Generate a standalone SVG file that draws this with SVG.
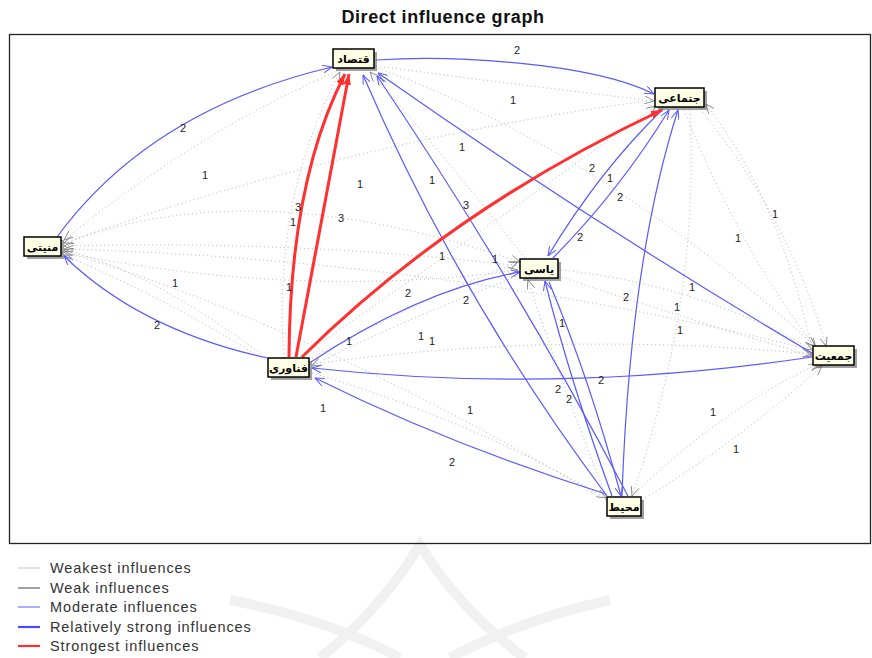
<svg xmlns="http://www.w3.org/2000/svg" width="872" height="658" viewBox="0 0 872 658">
<defs>
<marker id="ab" viewBox="0 0 10 8" refX="9.5" refY="4" markerWidth="10" markerHeight="8" markerUnits="userSpaceOnUse" orient="auto"><path d="M0,0 L9.5,4 L0,8" fill="none" stroke="#5a5aff" stroke-width="1"/></marker>
<marker id="ar" viewBox="0 0 12 8" refX="11" refY="4" markerWidth="12" markerHeight="8" markerUnits="userSpaceOnUse" orient="auto"><path d="M0,0 L11,4 L0,8 Z" fill="#ff3030"/></marker>
<marker id="ag" viewBox="0 0 10 8" refX="9.5" refY="4" markerWidth="10" markerHeight="8" markerUnits="userSpaceOnUse" orient="auto"><path d="M0,0 L9.5,4 L0,8" fill="none" stroke="#888" stroke-width="0.9"/></marker>
</defs>
<style>
.blue{fill:none;stroke:#5a5aff;stroke-width:1.2;marker-end:url(#ab)}
.red{fill:none;stroke:#ff3030;stroke-width:3;marker-end:url(#ar)}
.dot{fill:none;stroke:#b0b0b0;stroke-width:1;stroke-dasharray:1 3;marker-end:url(#ag)}
.lbl{font-family:"Liberation Sans",Arial,sans-serif;font-size:11px;fill:#222;text-anchor:middle}
.box{fill:#ffffe6;stroke:#000;stroke-width:1.5}
.sh{fill:#555;opacity:0.55}
.nt{font-family:"DejaVu Sans","Noto Sans",sans-serif;font-size:11px;font-weight:bold;fill:#000;text-anchor:middle}
.leg{font-family:"Liberation Sans",Arial,sans-serif;font-size:14.5px;letter-spacing:0.9px;fill:#333}
</style>
<rect x="0" y="0" width="872" height="658" fill="#fff"/>
<!-- watermark -->
<g fill="none" stroke="#f1f1f1" stroke-width="10">
<path d="M320,658 Q380,610 420,545 Q460,610 525,658"/>
<path d="M230,600 Q330,620 400,658"/>
<path d="M610,600 Q520,620 450,658"/>
</g>
<text x="443" y="23" font-family="Liberation Sans,Arial,sans-serif" font-size="18" font-weight="bold" letter-spacing="0.6" text-anchor="middle" fill="#111">Direct influence graph</text>
<rect x="9.5" y="34.5" width="861" height="509" fill="none" stroke="#222" stroke-width="1.3"/>
<g id="connectors">
<!-- weakest dotted -->
<path class="dot" d="M340,70 Q200,130 64,240"/>
<path class="dot" d="M655,100 Q350,140 64,243"/>
<path class="dot" d="M520,266 Q300,240 64,246"/>
<path class="dot" d="M812,350 Q450,260 64,249"/>
<path class="dot" d="M606,500 Q300,320 64,252"/>
<path class="dot" d="M268,362 Q170,300 64,255"/>
<path class="dot" d="M268,359 Q150,270 64,250"/>
<path class="dot" d="M376,66 Q520,85 654,101"/>
<path class="dot" d="M525,258 Q440,150 370,72"/>
<path class="dot" d="M284,358 Q272,200 340,72"/>
<path class="dot" d="M700,109 Q790,220 826,346"/>
<path class="dot" d="M684,110 Q740,250 816,348"/>
<path class="dot" d="M690,110 Q700,300 632,496"/>
<path class="dot" d="M561,270 Q700,285 812,350"/>
<path class="dot" d="M558,276 Q690,320 812,356"/>
<path class="dot" d="M312,364 Q560,330 812,354"/>
<path class="dot" d="M642,500 Q740,440 822,366"/>
<path class="dot" d="M630,498 Q720,410 818,364"/>
<path class="dot" d="M312,373 Q470,420 606,498"/>
<path class="dot" d="M378,68 Q600,150 815,346"/>
<path class="dot" d="M312,358 Q420,300 518,262"/>
<path class="dot" d="M62,252 Q300,300 518,270"/>
<path class="dot" d="M300,357 Q470,240 656,106"/>
<path class="dot" d="M520,275 Q380,330 312,366"/>
<path class="dot" d="M606,496 Q560,380 528,280"/>
<path class="dot" d="M812,350 Q780,200 706,104"/>
<path class="dot" d="M64,244 Q250,170 520,262"/>
<!-- moderate blue -->
<path class="blue" d="M57,237 Q150,110 332,67"/>
<path class="blue" d="M267,358 Q140,330 64,256"/>
<path class="blue" d="M376,60 C450,55 590,62 654,94"/>
<path class="blue" d="M607,496 Q460,300 363,75"/>
<path class="blue" d="M628,496 Q515,280 377,76"/>
<path class="blue" d="M812,353 Q595,225 378,73"/>
<path class="blue" d="M311,362 Q420,290 520,272"/>
<path class="blue" d="M663,109 Q600,170 548,256"/>
<path class="blue" d="M553,258 Q620,190 669,110"/>
<path class="blue" d="M622,496 Q630,260 678,110"/>
<path class="blue" d="M612,496 Q570,380 545,281"/>
<path class="blue" d="M549,282 Q590,380 621,496"/>
<path class="blue" d="M812,357 Q560,395 312,368"/>
<path class="blue" d="M606,494 Q450,445 315,378"/>
<!-- strongest red -->
<path class="red" d="M289,357 Q290,180 345,74"/>
<path class="red" d="M296,357 L349,74"/>
<path class="red" d="M302,357 Q450,210 662,110"/>
</g>
<g id="labels">
<text class="lbl" x="517" y="54">2</text>
<text class="lbl" x="513" y="104">1</text>
<text class="lbl" x="183" y="132">2</text>
<text class="lbl" x="462" y="151">1</text>
<text class="lbl" x="205" y="179">1</text>
<text class="lbl" x="360" y="188">1</text>
<text class="lbl" x="432" y="184">1</text>
<text class="lbl" x="592" y="172">2</text>
<text class="lbl" x="610" y="182">1</text>
<text class="lbl" x="620" y="201">2</text>
<text class="lbl" x="298" y="211">3</text>
<text class="lbl" x="341" y="222">3</text>
<text class="lbl" x="293" y="226">1</text>
<text class="lbl" x="466" y="209">3</text>
<text class="lbl" x="775" y="218">1</text>
<text class="lbl" x="738" y="242">1</text>
<text class="lbl" x="580" y="241">2</text>
<text class="lbl" x="442" y="260">1</text>
<text class="lbl" x="495" y="263">1</text>
<text class="lbl" x="175" y="287">1</text>
<text class="lbl" x="289" y="291">1</text>
<text class="lbl" x="408" y="297">2</text>
<text class="lbl" x="466" y="304">2</text>
<text class="lbl" x="626" y="301">2</text>
<text class="lbl" x="677" y="311">1</text>
<text class="lbl" x="692" y="291">1</text>
<text class="lbl" x="157" y="329">2</text>
<text class="lbl" x="349" y="345">1</text>
<text class="lbl" x="421" y="340">1</text>
<text class="lbl" x="432" y="345">1</text>
<text class="lbl" x="680" y="334">1</text>
<text class="lbl" x="562" y="327">1</text>
<text class="lbl" x="601" y="384">2</text>
<text class="lbl" x="558" y="393">2</text>
<text class="lbl" x="569" y="403">2</text>
<text class="lbl" x="323" y="412">1</text>
<text class="lbl" x="470" y="414">1</text>
<text class="lbl" x="713" y="416">1</text>
<text class="lbl" x="736" y="453">1</text>
<text class="lbl" x="452" y="466">2</text>
</g>
<g id="n-eqtesad"><rect class="sh" x="336" y="52" width="41" height="19"/><rect class="box" x="333" y="49" width="41" height="19"/><text class="nt" x="353.5" y="63">قتصاد</text></g>
<g id="n-ejtemaei"><rect class="sh" x="658" y="91" width="49" height="19"/><rect class="box" x="655" y="88" width="49" height="19"/><text class="nt" x="679.5" y="102">جتماعی</text></g>
<g id="n-amniati"><rect class="sh" x="27" y="240" width="37" height="19"/><rect class="box" x="24" y="237" width="37" height="19"/><text class="nt" x="42.5" y="251">منیتی</text></g>
<g id="n-siasi"><rect class="sh" x="523" y="262" width="38" height="19"/><rect class="box" x="520" y="259" width="38" height="19"/><text class="nt" x="539" y="273">یاسی</text></g>
<g id="n-fanavari"><rect class="sh" x="271" y="361" width="41" height="19"/><rect class="box" x="268" y="358" width="41" height="19"/><text class="nt" x="288.5" y="372">فناوری</text></g>
<g id="n-jamiat"><rect class="sh" x="816" y="349" width="41" height="19"/><rect class="box" x="813" y="346" width="41" height="19"/><text class="nt" x="833.5" y="360">جمعیت</text></g>
<g id="n-mohit"><rect class="sh" x="610" y="500" width="34" height="19"/><rect class="box" x="607" y="497" width="34" height="19"/><text class="nt" x="624" y="511">محیط</text></g>
<g id="legend">
<line x1="18" y1="568" x2="40" y2="568" stroke="#d8d8d8" stroke-width="1.5"/>
<text class="leg" x="50" y="573">Weakest influences</text>
<line x1="18" y1="588" x2="40" y2="588" stroke="#444" stroke-width="1"/>
<text class="leg" x="50" y="593">Weak influences</text>
<line x1="18" y1="607" x2="40" y2="607" stroke="#5a5aff" stroke-width="1"/>
<text class="leg" x="50" y="612">Moderate influences</text>
<line x1="18" y1="627" x2="40" y2="627" stroke="#4a4aff" stroke-width="2.2"/>
<text class="leg" x="50" y="632">Relatively strong influences</text>
<line x1="18" y1="646" x2="40" y2="646" stroke="#ff3030" stroke-width="2.2"/>
<text class="leg" x="50" y="651">Strongest influences</text>
</g>
</svg>
